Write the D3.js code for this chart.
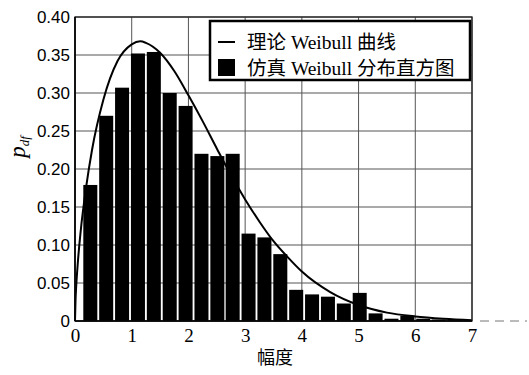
<!DOCTYPE html>
<html>
<head>
<meta charset="utf-8">
<script src="https://cdn.jsdelivr.net/npm/d3@7"></script>
<style>
  html, body { margin: 0; padding: 0; background: #fff; }
  svg { display: block; }
</style>
</head>
<body>
<div id="chart"></div>
<script>
// histogram bins (centres) and their heights
const binCenters = [0.27, 0.55, 0.83, 1.11, 1.39, 1.67, 1.95, 2.23, 2.51, 2.78, 3.06, 3.34,
                    3.62, 3.90, 4.18, 4.46, 4.74, 5.02, 5.30, 5.58, 5.86, 6.14, 6.41, 6.69];
const binValues = [0.179, 0.270, 0.307, 0.352, 0.354, 0.300, 0.283, 0.220, 0.217, 0.220, 0.115, 0.110,
                   0.088, 0.041, 0.035, 0.032, 0.023, 0.037, 0.010, 0.003, 0.007, 0.003, 0.002, 0.001];
const binWidth = 0.247;

// theoretical curve, points
const curveX = [0, 0.01, 0.02, 0.05, 0.1, 0.2, 0.3, 0.5, 0.75, 1.0, 1.15, 1.25, 1.5, 1.75, 2.0, 2.25,
                2.5, 2.75, 3.0, 3.25, 3.5, 3.75, 4.0, 4.5, 5.0, 5.5, 6.0, 6.5, 7.0];
const curveY = [0, 0.029, 0.044, 0.077, 0.118, 0.178, 0.225, 0.291, 0.342, 0.364, 0.368, 0.366, 0.353,
                0.329, 0.297, 0.263, 0.227, 0.192, 0.160, 0.131, 0.105, 0.084, 0.065, 0.038, 0.021,
                0.011, 0.006, 0.003, 0.001];

const xTicks = [0, 1, 2, 3, 4, 5, 6, 7];
const yTicks = [0, 0.05, 0.10, 0.15, 0.20, 0.25, 0.30, 0.35, 0.40];
const yTickLabels = ["0", "0.05", "0.10", "0.15", "0.20", "0.25", "0.30", "0.35", "0.40"];
const legendLabels = ["理论 Weibull 曲线", "仿真 Weibull 分布直方图"];

const width = 529, height = 375
    , margin = {left: 75, right: 57, top: 17, bottom: 54}
    , x = d3.scaleLinear().domain([0, 7]).range([margin.left, width - margin.right])
    , y = d3.scaleLinear().domain([0, 0.4]).range([height - margin.bottom, margin.top]);

const svg = d3.select("#chart").append("svg")
    .attr("width", width)
    .attr("height", height);

// grid
svg.append("g")
    .selectAll("line")
    .data(xTicks)
    .enter().append("line")
    .attr("x1", d => x(d)).attr("x2", d => x(d))
    .attr("y1", y(0)).attr("y2", y(0.4))
    .attr("stroke", "#555").attr("stroke-width", 1);
svg.append("g")
    .selectAll("line")
    .data(yTicks)
    .enter().append("line")
    .attr("x1", x(0)).attr("x2", x(7))
    .attr("y1", d => y(d)).attr("y2", d => y(d))
    .attr("stroke", "#555").attr("stroke-width", 1);

// bars
svg.append("g")
    .selectAll("rect")
    .data(binValues)
    .enter().append("rect")
    .attr("x", (d, i) => x(binCenters[i] - binWidth / 2))
    .attr("y", d => y(d))
    .attr("width", x(binWidth) - x(0))
    .attr("height", d => y(0) - y(d))
    .attr("fill", "#000");

// curve
const line = d3.line()
    .x(d => x(d[0]))
    .y(d => y(d[1]))
    .curve(d3.curveMonotoneX);
svg.append("path")
    .datum(d3.zip(curveX, curveY))
    .attr("d", line)
    .attr("fill", "none")
    .attr("stroke", "#000")
    .attr("stroke-width", 2);

// frame
svg.append("rect")
    .attr("x", x(0)).attr("y", y(0.4))
    .attr("width", x(7) - x(0)).attr("height", y(0) - y(0.4))
    .attr("fill", "none").attr("stroke", "#222").attr("stroke-width", 1.3);
svg.append("line")
    .attr("x1", x(0)).attr("x2", x(0)).attr("y1", y(0)).attr("y2", y(0.4))
    .attr("stroke", "#000").attr("stroke-width", 1.5);
svg.append("line")
    .attr("x1", x(0)).attr("x2", x(7)).attr("y1", y(0)).attr("y2", y(0))
    .attr("stroke", "#000").attr("stroke-width", 1.5);
// dashed stub right of the x axis
svg.append("line")
    .attr("x1", x(7) + 8).attr("x2", width - 2).attr("y1", y(0)).attr("y2", y(0))
    .attr("stroke", "#777").attr("stroke-width", 1)
    .attr("stroke-dasharray", "9,6");

// axes (tick labels only)
const xAxis = d3.axisBottom(x).tickValues(xTicks).tickSize(0).tickPadding(8).tickFormat(d3.format("d"));
const gx = svg.append("g")
    .attr("transform", "translate(0," + y(0) + ")")
    .call(xAxis);
gx.select(".domain").remove();
gx.selectAll("text")
    .attr("font-family", "'Liberation Serif', serif")
    .attr("font-size", 19)
    .attr("fill", "#000");

const yAxis = d3.axisLeft(y).tickValues(yTicks).tickSize(0).tickPadding(5)
    .tickFormat((d, i) => yTickLabels[i]);
const gy = svg.append("g")
    .attr("transform", "translate(" + x(0) + ",0)")
    .call(yAxis);
gy.select(".domain").remove();
gy.selectAll("text")
    .attr("font-family", "'Liberation Sans', sans-serif")
    .attr("font-size", 17)
    .attr("fill", "#000");

// axis titles
svg.append("text")
    .attr("x", 275).attr("y", 364)
    .attr("text-anchor", "middle")
    .attr("font-family", "'Noto Sans CJK SC', sans-serif")
    .attr("font-size", 18)
    .text("幅度");

const ylab = svg.append("text")
    .attr("transform", "translate(25,147) rotate(-90)")
    .attr("text-anchor", "middle")
    .attr("font-family", "'Liberation Serif', serif")
    .attr("font-style", "italic");
ylab.append("tspan").attr("font-size", 23).text("p");
ylab.append("tspan").attr("font-size", 13).attr("dy", 4).text("df");

// legend
const legend = svg.append("g");
legend.append("rect")
    .attr("x", 210).attr("y", 21)
    .attr("width", 260).attr("height", 59)
    .attr("fill", "#fff").attr("stroke", "#000").attr("stroke-width", 2.5);
legend.append("line")
    .attr("x1", 218).attr("x2", 235).attr("y1", 42).attr("y2", 42)
    .attr("stroke", "#000").attr("stroke-width", 2);
legend.append("rect")
    .attr("x", 218).attr("y", 59).attr("width", 17).attr("height", 17)
    .attr("fill", "#000");
legend.selectAll("text")
    .data(legendLabels)
    .enter().append("text")
    .attr("x", 247)
    .attr("y", (d, i) => 49 + i * 26)
    .attr("font-family", "'Liberation Serif', 'Noto Sans CJK SC', serif")
    .attr("font-size", 19.5)
    .text(d => d);
</script>
</body>
</html>
